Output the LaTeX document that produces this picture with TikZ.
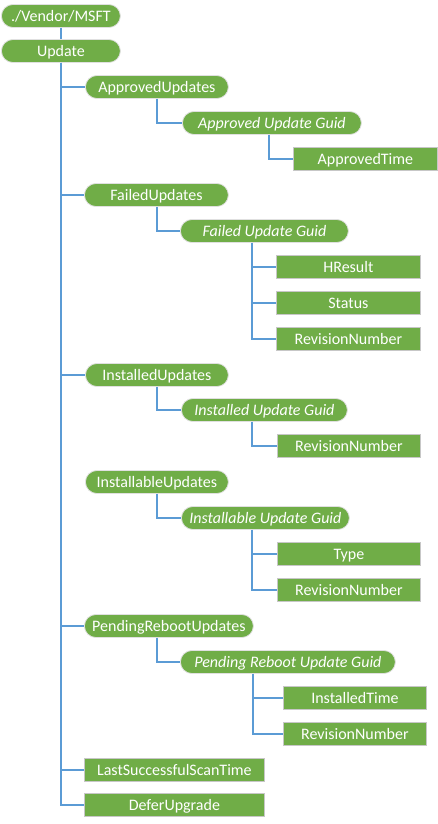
\documentclass[tikz,border=0pt]{standalone}
\usepackage{fontspec}
\setmainfont{Carlito}
\definecolor{leafgreen}{RGB}{112,173,71}
\definecolor{linkblue}{RGB}{91,155,213}
\begin{document}
\begin{tikzpicture}[x=1pt,y=-1pt,
  every node/.style={inner sep=0pt, text=white, font=\fontsize{16pt}{18pt}\selectfont,
    text height=10.3pt, text depth=0pt, minimum height=23pt, anchor=west},
  interior/.style={rectangle, rounded corners=11.5pt, fill=leafgreen, draw=black!12, line width=0.8pt},
  guid/.style={interior, font=\fontsize{16pt}{18pt}\selectfont\itshape},
  leaf/.style={rectangle, fill=leafgreen, draw=black!22, line width=0.8pt},
  link/.style={draw=linkblue, line width=1.8pt}]
\useasboundingbox (0,0) rectangle (438,824);

% root and top level
\node[interior, minimum width=119pt] (vendor) at (1,16) {./Vendor/MSFT};
\node[interior, minimum width=119pt] (update) at (1,51) {Update};

% first-level children of Update
\node[interior, minimum width=143pt] (approved)    at (85,87)  {ApprovedUpdates};
\node[interior, minimum width=144pt] (failed)      at (84,195) {FailedUpdates};
\node[interior, minimum width=143pt] (installed)   at (85,375) {InstalledUpdates};
\node[interior, minimum width=143pt] (installable) at (85,482) {InstallableUpdates};
\node[interior, minimum width=169pt] (pending)     at (84,626) {PendingRebootUpdates};
\node[leaf, minimum width=180pt] (lastscan) at (84,770) {LastSuccessfulScanTime};
\node[leaf, minimum width=180pt] (defer)    at (84,805) {DeferUpgrade};

% guid nodes
\node[guid, minimum width=179pt] (aguid)  at (182,123) {Approved Update Guid};
\node[guid, minimum width=168pt] (fguid)  at (180,231) {Failed Update Guid};
\node[guid, minimum width=166pt] (iguid)  at (181,410) {Installed Update Guid};
\node[guid, minimum width=168pt] (iaguid) at (181,518) {Installable Update Guid};
\node[guid, minimum width=215pt] (pguid)  at (180,662) {Pending Reboot Update Guid};

% leaves
\node[leaf, minimum width=144pt] (atime)   at (293,159) {ApprovedTime};
\node[leaf, minimum width=144pt] (hresult) at (276,267) {HResult};
\node[leaf, minimum width=144pt] (status)  at (276,303) {Status};
\node[leaf, minimum width=144pt] (frev)    at (276,339) {RevisionNumber};
\node[leaf, minimum width=143pt] (irev)    at (277,446) {RevisionNumber};
\node[leaf, minimum width=143pt] (type)    at (277,554) {Type};
\node[leaf, minimum width=143pt] (iarev)   at (277,590) {RevisionNumber};
\node[leaf, minimum width=143pt] (ptime)   at (283,698) {InstalledTime};
\node[leaf, minimum width=143pt] (prev)    at (283,734) {RevisionNumber};

% connectors
\draw[link] (vendor.south) -- (update.north);
\foreach \n in {approved,failed,installed,pending,lastscan,defer}
  \draw[link] (update.south) |- (\n.west);
\draw[link] ([xshift=72pt]approved.south west) |- (aguid.west);
\draw[link] ([xshift=73pt]failed.south west) |- (fguid.west);
\draw[link] ([xshift=72pt]installed.south west) |- (iguid.west);
\draw[link] ([xshift=72pt]installable.south west) |- (iaguid.west);
\draw[link] ([xshift=73pt]pending.south west) |- (pguid.west);
\draw[link] ([xshift=87pt]aguid.south west) |- (atime.west);
\foreach \n in {hresult,status,frev}
  \draw[link] ([xshift=72pt]fguid.south west) |- (\n.west);
\draw[link] ([xshift=71pt]iguid.south west) |- (irev.west);
\foreach \n in {type,iarev}
  \draw[link] ([xshift=71pt]iaguid.south west) |- (\n.west);
\foreach \n in {ptime,prev}
  \draw[link] ([xshift=73pt]pguid.south west) |- (\n.west);
\end{tikzpicture}
\end{document}
